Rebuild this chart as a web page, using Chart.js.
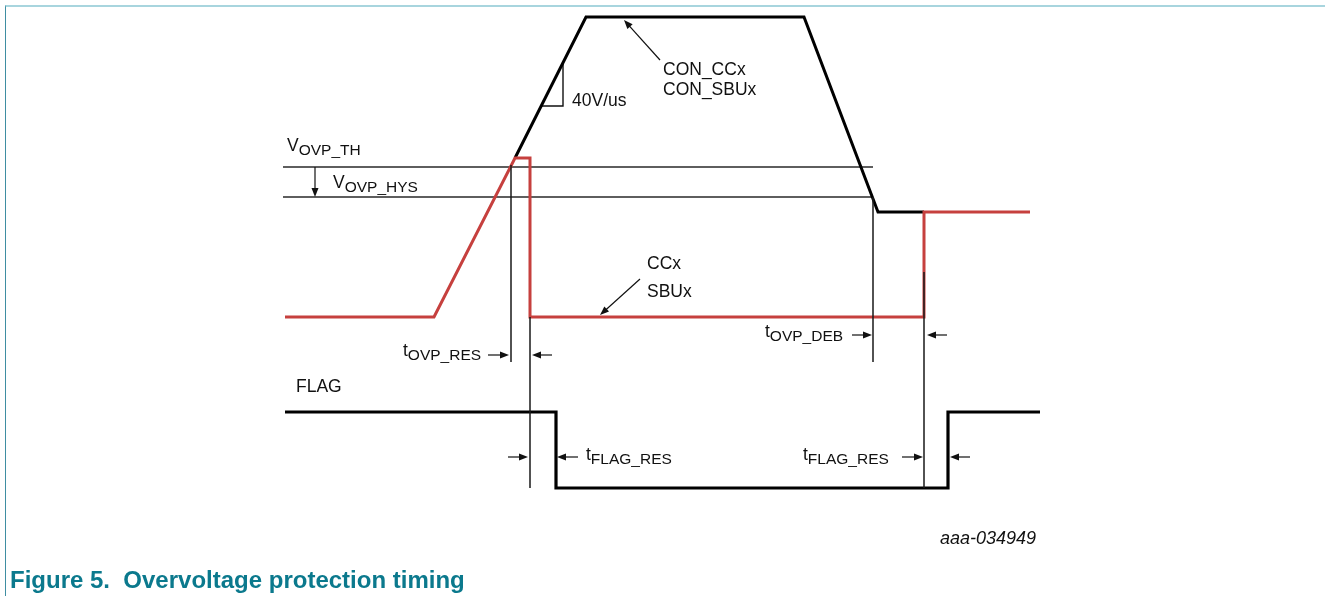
<!DOCTYPE html>
<html>
<head>
<meta charset="utf-8">
<script src="https://cdn.jsdelivr.net/npm/chart.js@4/dist/chart.umd.min.js"></script>
<style>
  body { margin: 0; background: #fff; width: 1325px; height: 596px; overflow: hidden; position: relative; }
  #frame { position: absolute; left: 5px; top: 5px; right: 0; bottom: 0; border-top: 2px solid #a8d5de; border-left: 1.5px solid #3f8ea2; }
  #chart { position: absolute; left: 0; top: 0; }
  #code { position: absolute; right: 289px; top: 528px; font: italic 18px "Liberation Sans", Arial, sans-serif; color: #111; }
  #caption { position: absolute; left: 10px; top: 566px; font: bold 24px "Liberation Sans", Arial, sans-serif; color: #0b798d; white-space: pre; }
</style>
</head>
<body>
<div id="frame"></div>
<canvas id="chart" width="1325" height="596"></canvas>
<div id="code">aaa-034949</div>
<div id="caption">Figure 5.  Overvoltage protection timing</div>
<script>
// Time axis: arbitrary units; level axis: arbitrary units (FLAG low = 0)
const ccxTimes  = [0, 29.8, 46, 49, 49, 127.8, 127.8, 149];
const ccxLevels = [34.2, 34.2, 66, 66, 34.2, 34.2, 55.2, 55.2];

const conTimes  = [46, 60.2, 103.8, 118.6, 127.8];
const conLevels = [66, 94.2, 94.2, 55.2, 55.2];

const flagTimes  = [0, 54.2, 54.2, 132.6, 132.6, 151];
const flagLevels = [15.2, 15.2, 0, 0, 15.2, 15.2];

// threshold levels and their extent
const vthLevel = 64.2;
const vhysLevel = 58.2;
const thresholdSpan = [-0.4, 117.6];

// vertical timing markers: [time, from level, to level]
const markers = [
  [45.2, 64.6, 25.2],
  [49, 34.2, 0],
  [117.6, 58.2, 25.2],
  [127.8, 43.2, 0]
];

// slope triangle (40V/us)
const slopeTimes  = [51.2, 55.6, 55.6];
const slopeLevels = [76.4, 76.4, 85];

// dimension arrows: [fromX, fromY, tipX, tipY]
const arrows = [
  [40.6, 26.6, 44.8, 26.6], [53.4, 26.6, 49.4, 26.6],
  [44.6, 6.2, 48.6, 6.2], [58.6, 6.2, 54.4, 6.2],
  [113.4, 30.6, 117.4, 30.6], [132.4, 30.6, 128.4, 30.6],
  [123.4, 6.2, 127.6, 6.2], [137, 6.2, 133, 6.2],
  [6, 64.2, 6, 58.2],
  [75, 85.6, 67.8, 93.6],
  [71, 41.8, 63, 34.6]
];

// labels: [main text, subscript, time, level]
const labels = [
  ['V', 'OVP_TH', 0.4, 67.4],
  ['V', 'OVP_HYS', 9.6, 60],
  ['t', 'OVP_RES', 23.6, 26.4],
  ['t', 'OVP_DEB', 96, 30.2],
  ['t', 'FLAG_RES', 60.2, 5.6],
  ['t', 'FLAG_RES', 103.6, 5.6],
  ['CON_CCx', '', 75.6, 82.6],
  ['CON_SBUx', '', 75.6, 78.6],
  ['40V/us', '', 57.4, 76.4],
  ['CCx', '', 72.4, 43.8],
  ['SBUx', '', 72.4, 38.2],
  ['FLAG', '', 2.2, 19.2]
];

const zip = (xs, ys) => xs.map((x, i) => ({ x, y: ys[i] }));

function markerPoints() {
  const pts = [];
  markers.forEach(m => {
    pts.push({ x: m[0], y: m[1] }, { x: m[0], y: m[2] }, { x: m[0], y: null });
  });
  return pts;
}

function thresholdPoints() {
  return [
    { x: thresholdSpan[0], y: vthLevel }, { x: thresholdSpan[1], y: vthLevel }, { x: thresholdSpan[1], y: null },
    { x: thresholdSpan[0], y: vhysLevel }, { x: thresholdSpan[1], y: vhysLevel }
  ];
}

const FONT = '"Liberation Sans", Arial, sans-serif';

const annotations = {
  id: 'annotations',
  afterDatasetsDraw(chart) {
    const ctx = chart.ctx;
    const sx = chart.scales.x, sy = chart.scales.y;
    ctx.save();
    ctx.strokeStyle = '#111';
    ctx.fillStyle = '#111';
    ctx.lineWidth = 1.2;
    arrows.forEach(a => {
      const x1 = sx.getPixelForValue(a[0]), y1 = sy.getPixelForValue(a[1]);
      const x2 = sx.getPixelForValue(a[2]), y2 = sy.getPixelForValue(a[3]);
      const ang = Math.atan2(y2 - y1, x2 - x1);
      const len = 9, half = 3.5;
      ctx.beginPath();
      ctx.moveTo(x1, y1);
      ctx.lineTo(x2 - Math.cos(ang) * len * 0.8, y2 - Math.sin(ang) * len * 0.8);
      ctx.stroke();
      ctx.beginPath();
      ctx.moveTo(x2, y2);
      ctx.lineTo(x2 - Math.cos(ang) * len - Math.sin(ang) * half, y2 - Math.sin(ang) * len + Math.cos(ang) * half);
      ctx.lineTo(x2 - Math.cos(ang) * len + Math.sin(ang) * half, y2 - Math.sin(ang) * len - Math.cos(ang) * half);
      ctx.closePath();
      ctx.fill();
    });
    ctx.textBaseline = 'alphabetic';
    ctx.textAlign = 'left';
    labels.forEach(l => {
      const x = sx.getPixelForValue(l[2]), y = sy.getPixelForValue(l[3]);
      ctx.font = '17.5px ' + FONT;
      ctx.fillText(l[0], x, y);
      if (l[1]) {
        const w = ctx.measureText(l[0]).width;
        ctx.font = '15.5px ' + FONT;
        ctx.fillText(l[1], x + w, y + 4);
      }
    });
    ctx.restore();
  }
};

const lineDefaults = { pointRadius: 0, tension: 0, clip: false, spanGaps: false, fill: false };

new Chart(document.getElementById('chart'), {
  type: 'line',
  data: {
    datasets: [
      { ...lineDefaults, label: 'markers', data: markerPoints(), borderColor: '#1a1a1a', borderWidth: 1.5, order: 1 },
      { ...lineDefaults, label: 'CCx / SBUx', data: zip(ccxTimes, ccxLevels), borderColor: '#c6403e', borderWidth: 3, order: 2 },
      { ...lineDefaults, label: 'CON_CCx / CON_SBUx', data: zip(conTimes, conLevels), borderColor: '#000', borderWidth: 3, order: 3 },
      { ...lineDefaults, label: 'FLAG', data: zip(flagTimes, flagLevels), borderColor: '#000', borderWidth: 3.2, order: 4 },
      { ...lineDefaults, label: 'thresholds', data: thresholdPoints(), borderColor: '#2a2a2a', borderWidth: 1.3, order: 5 },
      { ...lineDefaults, label: 'slope', data: zip(slopeTimes, slopeLevels), borderColor: '#111', borderWidth: 1.4, order: 6 }
    ]
  },
  options: {
    responsive: false,
    animation: false,
    events: [],
    layout: { padding: { left: 285, right: 285, top: 13, bottom: 108 } },
    scales: {
      x: { type: 'linear', min: 0, max: 151, display: false },
      y: { type: 'linear', min: 0, max: 95, display: false }
    },
    plugins: { legend: { display: false }, tooltip: { enabled: false } }
  },
  plugins: [annotations]
});
</script>
</body>
</html>
